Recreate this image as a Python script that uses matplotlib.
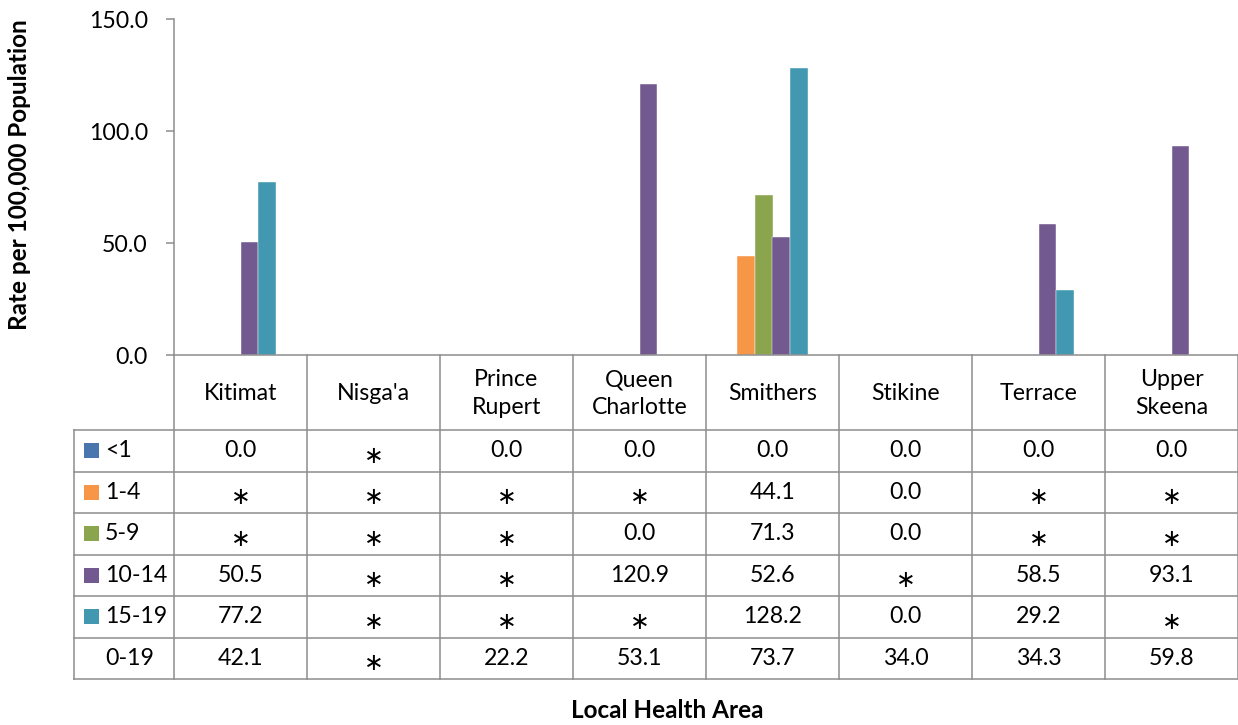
import matplotlib
matplotlib.use("Agg")
import matplotlib.pyplot as plt
from matplotlib.patches import Rectangle
from matplotlib.lines import Line2D

plt.rcParams['font.family'] = ['Lato', 'DejaVu Sans']

# ---- data ----
areas = ["Kitimat", "Nisga'a", "Prince\nRupert", "Queen\nCharlotte",
         "Smithers", "Stikine", "Terrace", "Upper\nSkeena"]
age_groups = ["<1", "1-4", "5-9", "10-14", "15-19", "0-19"]
rate_lt1 = [0.0, None, 0.0, 0.0, 0.0, 0.0, 0.0, 0.0]
rate_1_4 = [None, None, None, None, 44.1, 0.0, None, None]
rate_5_9 = [None, None, None, 0.0, 71.3, 0.0, None, None]
rate_10_14 = [50.5, None, None, 120.9, 52.6, None, 58.5, 93.1]
rate_15_19 = [77.2, None, None, None, 128.2, 0.0, 29.2, None]
rate_0_19 = [42.1, None, 22.2, 53.1, 73.7, 34.0, 34.3, 59.8]
series = [rate_lt1, rate_1_4, rate_5_9, rate_10_14, rate_15_19, rate_0_19]
colors = ["#4A76AE", "#F79646", "#8BA54E", "#725A91", "#4298B0", None]
y_ticks = [0, 50, 100, 150]

# ---- layout helpers (pixel -> figure fraction) ----
W, H = 1238, 725
def fx(px):
    return px / W
def fy(py):
    return 1 - py / H

FS = 16.7
FS_TITLE = 17.5
GRID = "#8D8D8D"
LW = 1.1

fig = plt.figure(figsize=(W / 100, H / 100), dpi=100)

# ---- bar chart ----
ax = fig.add_axes([fx(174), fy(355), fx(1238) - fx(174), fy(19) - fy(355)])
n_slots = len(series)
bw = 0.8 / n_slots
for i, (vals, col) in enumerate(zip(series, colors)):
    if col is None:
        continue  # the all-ages total appears only in the table
    xs = [k + (i - (n_slots - 1) / 2) * bw for k, v in enumerate(vals) if v is not None]
    hs = [v for v in vals if v is not None]
    ax.bar(xs, hs, width=bw, color=col, edgecolor="white", linewidth=0.3)

ax.set_xlim(-0.5, len(areas) - 0.5)
ax.set_ylim(0, 150)
ax.set_yticks(y_ticks)
ax.set_yticklabels([f"{t:.1f}" for t in y_ticks], fontsize=FS, color="black")
ax.set_xticks([])
for s in ["top", "right", "bottom"]:
    ax.spines[s].set_visible(False)
ax.spines["left"].set_color(GRID)
ax.spines["left"].set_linewidth(LW)
ax.tick_params(axis="y", direction="out", length=5.8, width=LW, color=GRID, pad=13)

# ---- data table ----
col_px = (1238 - 174) / len(areas)
label_w = 100 / col_px
header_h = 75
row_h = 41.5
n_rows = len(age_groups)
table_h = header_h + n_rows * row_h
xmin = -0.5 - label_w
xmax = len(areas) - 0.5

tax = fig.add_axes([fx(74), fy(355 + table_h), fx(1238) - fx(74), table_h / H])
tax.set_xlim(xmin, xmax)
tax.set_ylim(table_h, 0)
tax.axis("off")

def hline(y, x0, x1):
    tax.add_line(Line2D([x0, x1], [y, y], color=GRID, lw=LW, clip_on=False))

def vline(x, y0, y1):
    tax.add_line(Line2D([x, x], [y0, y1], color=GRID, lw=LW, clip_on=False))

hline(0, -0.5, xmax)
for r in range(n_rows + 1):
    hline(header_h + r * row_h, xmin, xmax)
for k in range(len(areas) + 1):
    vline(-0.5 + k, 0, table_h)
vline(xmin, header_h, table_h)

for k, name in enumerate(areas):
    tax.text(k, header_h / 2 + 1, name, ha="center", va="center", fontsize=FS,
             linespacing=1.38)

for r, (grp, vals, col) in enumerate(zip(age_groups, series, colors)):
    yc = header_h + (r + 0.5) * row_h
    if col is not None:
        tax.add_patch(Rectangle((xmin + 10 / col_px, yc - 7.5), 15 / col_px, 15,
                                facecolor=col, edgecolor="none", clip_on=False))
    tax.text(xmin + 31 / col_px, yc, grp, ha="left", va="center", fontsize=FS)
    for k, v in enumerate(vals):
        if v is None:
            tax.text(k, yc + 5, "\u2217", ha="center", va="center",
                     fontsize=17, family="DejaVu Sans")
        else:
            tax.text(k, yc, f"{v:.1f}", ha="center", va="center", fontsize=FS)

# ---- axis titles ----
fig.text(fx(20), fy(175), "Rate per 100,000 Population", rotation=90,
         ha="center", va="center", fontsize=FS_TITLE, fontweight="bold")
fig.text(fx(667), fy(710), "Local Health Area", ha="center", va="center",
         fontsize=FS_TITLE, fontweight="bold")

fig.savefig("out.png", dpi=100, facecolor="white")
